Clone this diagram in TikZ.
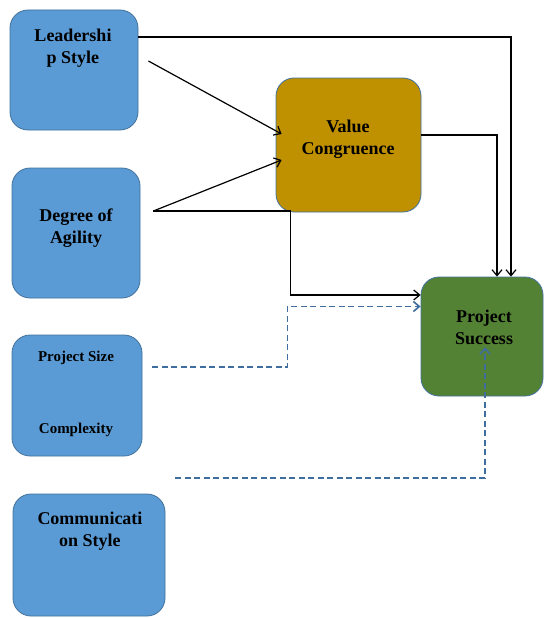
\documentclass[tikz,border=0pt]{standalone}
\usepackage{fontspec}
\setmainfont{Liberation Serif}
\usepackage{tikz}
\usetikzlibrary{arrows.meta,positioning,calc}

\definecolor{boxblue}{HTML}{5B9BD5}
\definecolor{edgeblue}{HTML}{41719C}
\definecolor{dashblue}{HTML}{3F6E9E}
\definecolor{valgold}{HTML}{BF9000}
\definecolor{succgreen}{HTML}{548235}

\begin{document}
\begin{tikzpicture}[x=1pt,y=-1pt,->,>={Straight Barb[length=6pt,width=10pt]},
  line width=1.2pt,
  main box/.style={rectangle,rounded corners=18pt,draw=edgeblue,line width=0.8pt,fill=boxblue},
  box text/.style={font=\bfseries\fontsize{18}{22}\selectfont,align=center,inner sep=0pt},
  small text/.style={font=\bfseries\fontsize{15}{18}\selectfont,inner sep=0pt},
  soft link/.style={dash pattern=on 6pt off 3.5pt,draw=dashblue,line width=1.6pt}]
    \useasboundingbox (0,0) rectangle (544,618);
    % boxes
    \node[main box,minimum width=128pt,minimum height=120pt](lead) at (74,70) {};
    \node[main box,minimum width=128pt,minimum height=130pt](agil) at (76,233) {};
    \node[main box,minimum width=130pt,minimum height=121pt](size) at (77,395.5) {};
    \node[main box,minimum width=152pt,minimum height=122pt](comm) at (89,555) {};
    \node[main box,fill=valgold,minimum width=145pt,minimum height=134pt](value) at (348.5,145) {};
    \node[main box,fill=succgreen,minimum width=122pt,minimum height=119pt](succ) at (482,336.5) {};
    % texts
    \node[box text](leadt) at (73,48) {Leadershi\\p Style};
    \node[box text](agilt) at (76,228) {Degree of\\Agility};
    \node[small text](sizet) at (76,358) {Project Size};
    \node[small text](cplxt) at (76,430) {Complexity};
    \node[box text](commt) at (90,531) {Communicati\\on Style};
    \node[box text](valuet) at (348,139) {Value\\Congruence};
    \node[box text](succt) at (484,327) {Project\\Success};
    % start points
    \coordinate (leadout) at ([shift={(10pt,9pt)}]lead.east);
    \coordinate (agilout) at ([shift={(13pt,22pt)}]agil.east);
    \coordinate (sizeout) at ([shift={(10pt,28.5pt)}]size.east);
    \coordinate (cplxout) at ([shift={(33pt,-82.5pt)}]size.east);
    % links
    \draw ([yshift=33pt]lead.east) -| ([xshift=29pt]succ.north);
    \draw (leadout) -- ([shift={(6pt,11pt)}]value.west);
    \draw (agilout) -- ([shift={(6pt,-15pt)}]value.west);
    \draw (agilout) -- ++(137,0) |- ([yshift=41.5pt]succ.west);
    \draw ([yshift=10pt]value.east) -| ([xshift=15pt]succ.north);
    \draw[soft link] (sizeout) -- ++(135,0) |- ([yshift=30pt]succ.west);
    \draw[soft link] (cplxout) -| ([shift={(3pt,-10.5pt)}]succ.center);
\end{tikzpicture}
\end{document}
